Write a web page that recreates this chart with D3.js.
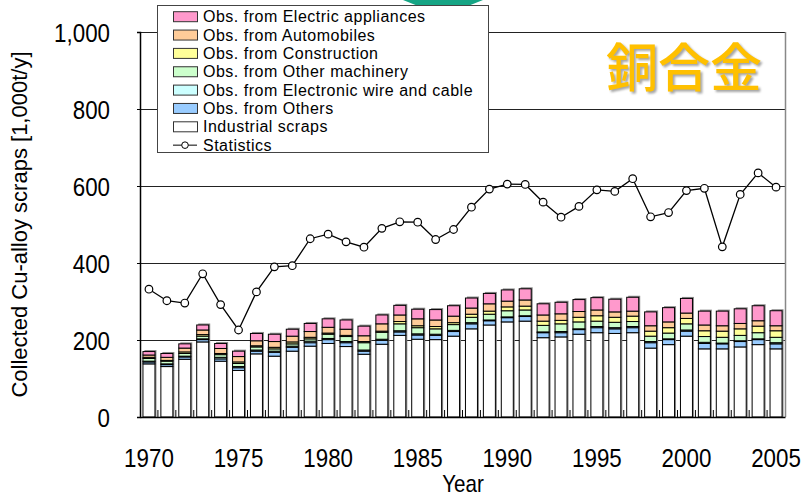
<!DOCTYPE html>
<html lang="ja">
<head>
<meta charset="utf-8">
<title>銅合金 scraps</title>
<script src="https://d3js.org/d3.v7.min.js"></script>
<style>
  body { margin: 0; background: #fff; }
  svg { display: block; }
  .tick-label { font-family: "Liberation Sans", Arial, sans-serif; font-size: 26px; fill: #000; }
  .legend-text { font-family: "Liberation Sans", Arial, sans-serif; font-size: 16px; letter-spacing: 0.5px; fill: #000; }
  .axis-title { font-family: "Liberation Sans", Arial, sans-serif; font-size: 22px; fill: #000; }
</style>
</head>
<body>
<script>
// Data
const years = [1970, 1971, 1972, 1973, 1974, 1975, 1976, 1977, 1978, 1979,
  1980, 1981, 1982, 1983, 1984, 1985, 1986, 1987, 1988, 1989,
  1990, 1991, 1992, 1993, 1994, 1995, 1996, 1997, 1998, 1999,
  2000, 2001, 2002, 2003, 2004, 2005];
const industrial = [138,131,150,195,145,121,164,158,171,184,191,183,163,189,212,202,201,210,229,239,247,249,206,208,215,219,217,219,179,188,210,177,177,182,188,177];
const others = [5,5,6,6,6,7,7,10,10,9,10,10,8,10,9,11,11,12,13,11,11,12,13,11,12,13,12,13,14,13,13,14,13,14,13,13];
const wire = [2,2,2,2,4,3,3,3,3,4,3,3,3,3,3,3,3,3,3,2,2,2,2,3,2,3,3,3,3,2,3,3,2,2,2,3];
const machinery = [7,7,7,7,7,8,8,6,6,6,11,13,19,18,18,16,14,15,14,15,16,15,17,20,18,14,14,13,14,15,16,15,15,14,16,14];
const construction = [3,2,4,4,3,4,3,4,5,4,3,3,3,3,6,5,6,5,8,8,10,10,11,9,12,14,13,14,13,14,14,15,16,17,17,17];
const automobiles = [6,8,10,12,13,14,13,15,15,15,15,16,15,19,17,18,17,17,16,19,15,16,16,17,15,15,14,13,14,15,14,15,14,14,14,13];
const electric = [9,10,11,13,13,14,19,19,18,21,22,24,25,23,25,25,27,27,26,27,29,29,29,30,31,32,33,36,36,37,38,36,38,38,39,39];
const statistics = [332,302,296,372,292,226,325,390,393,463,475,455,441,490,507,506,461,487,545,592,605,604,558,519,547,590,586,619,520,531,588,594,442,578,634,597];

const seriesKeys = ["industrial", "others", "wire", "machinery", "construction", "automobiles", "electric"];
const seriesNames = ["Industrial scraps", "Obs. from Others", "Obs. from Electronic wire and cable",
  "Obs. from Other machinery", "Obs. from Construction", "Obs. from Automobiles", "Obs. from Electric appliances"];
const seriesColors = ["#ffffff", "#99ccff", "#ccffff", "#ccffcc", "#ffff99", "#ffcc99", "#ff99cc"];
const yTicks = [0, 200, 400, 600, 800, 1000];
const xLabels = [1970, 1975, 1980, 1985, 1990, 1995, 2000, 2005];

const table = years.map((year, i) => ({
  year,
  industrial: industrial[i], others: others[i], wire: wire[i], machinery: machinery[i],
  construction: construction[i], automobiles: automobiles[i], electric: electric[i],
  statistics: statistics[i]
}));

// Dimensions
const width = 803;
const height = 499;
const margin = { top: 32, right: 18, bottom: 82, left: 140 };
const narrow = 0.86; // horizontal squeeze for the narrow tick font

const svg = d3.select("body").append("svg")
  .attr("width", width)
  .attr("height", height);

// Scales
const x = d3.scaleBand()
  .domain(years)
  .range([margin.left, width - margin.right])
  .paddingInner(0.33)
  .paddingOuter(0.165);

const y = d3.scaleLinear()
  .domain([0, 1000])
  .range([height - margin.bottom, margin.top]);

// Arrow piece at the top
svg.append("polygon")
  .attr("points", "403,0 483,0 468,6 418,6")
  .attr("fill", "#16a585");

// Gridlines
svg.append("g")
  .selectAll("line")
  .data(yTicks.filter(d => d > 0))
  .join("line")
  .attr("x1", margin.left)
  .attr("x2", width - margin.right)
  .attr("y1", d => Math.round(y(d)) + 0.5)
  .attr("y2", d => Math.round(y(d)) + 0.5)
  .attr("stroke", "#222")
  .attr("stroke-width", 1);

// Right frame
svg.append("line")
  .attr("x1", width - margin.right + 0.5)
  .attr("x2", width - margin.right + 0.5)
  .attr("y1", y(1000))
  .attr("y2", y(0))
  .attr("stroke", "#888")
  .attr("stroke-width", 1.5);

// Stacked bars
const stack = d3.stack().keys(seriesKeys);
const stacked = stack(table);

const tops = table.map(d => seriesKeys.reduce((s, k) => s + d[k], 0));

svg.append("g")
  .selectAll("rect")
  .data(table)
  .join("rect")
  .attr("x", d => x(d.year) + 1.5)
  .attr("y", (d, i) => y(tops[i]) - 1.5)
  .attr("width", x.bandwidth())
  .attr("height", (d, i) => y(0) - y(tops[i]) + 1.5)
  .attr("fill", "#8a8a8a");

svg.append("g")
  .selectAll("g")
  .data(stacked)
  .join("g")
  .attr("fill", (d, i) => seriesColors[i])
  .selectAll("rect")
  .data(d => d)
  .join("rect")
  .attr("x", d => x(d.data.year))
  .attr("y", d => y(d[1]))
  .attr("width", x.bandwidth())
  .attr("height", d => y(d[0]) - y(d[1]))
  .attr("stroke", "#000")
  .attr("stroke-width", 1);

// Axes
const yAxis = svg.append("g")
  .attr("transform", `translate(${margin.left},0)`)
  .call(d3.axisLeft(y).tickValues(yTicks).tickFormat(d3.format(",")).tickSize(3));
yAxis.select(".domain").attr("stroke", "#000").attr("stroke-width", 1.5);
yAxis.selectAll(".tick line").attr("stroke", "#000");
yAxis.selectAll(".tick text")
  .attr("class", "tick-label")
  .attr("x", -30 / narrow)
  .attr("dy", "0.36em")
  .attr("transform", `scale(${narrow},1)`);

// Year boundary ticks
svg.append("g")
  .selectAll("line")
  .data(years.slice(1))
  .join("line")
  .attr("x1", d => x(d) - x.step() * x.paddingInner() / 2)
  .attr("x2", d => x(d) - x.step() * x.paddingInner() / 2)
  .attr("y1", y(0))
  .attr("y2", y(0) - 7)
  .attr("stroke", "#000");

const xAxis = svg.append("g")
  .attr("transform", `translate(0,${y(0)})`)
  .call(d3.axisBottom(x).tickValues(xLabels).tickSize(0).tickPadding(32));
xAxis.select(".domain").attr("stroke", "#000").attr("stroke-width", 1.5);
xAxis.selectAll(".tick text")
  .attr("class", "tick-label")
  .attr("transform", `scale(${narrow},1)`);

// Statistics line
const line = d3.line()
  .x(d => x(d.year) + x.bandwidth() / 2)
  .y(d => y(d.statistics));

svg.append("path")
  .datum(table)
  .attr("d", line)
  .attr("fill", "none")
  .attr("stroke", "#000")
  .attr("stroke-width", 1.3);

svg.append("g")
  .selectAll("circle")
  .data(table)
  .join("circle")
  .attr("cx", d => x(d.year) + x.bandwidth() / 2)
  .attr("cy", d => y(d.statistics))
  .attr("r", 3.8)
  .attr("fill", "#fff")
  .attr("stroke", "#000")
  .attr("stroke-width", 1.2);

// Axis titles
svg.append("text")
  .attr("class", "axis-title")
  .attr("transform", `translate(27,${(y(0) + y(1000)) / 2}) rotate(-90)`)
  .attr("text-anchor", "middle")
  .text("Collected Cu-alloy scraps [1,000t/y]");

svg.append("text")
  .attr("class", "tick-label")
  .attr("transform", `translate(463,492) scale(${narrow},1)`)
  .attr("text-anchor", "middle")
  .style("font-size", "24px")
  .text("Year");

// Title
svg.append("text")
  .attr("x", 606)
  .attr("y", 87)
  .attr("font-family", "'Noto Sans CJK JP', sans-serif")
  .attr("font-size", 52)
  .attr("font-weight", 500)
  .attr("fill", "#ffc000")
  .style("filter", "drop-shadow(2px 2px 1px rgba(0,0,0,0.35))")
  .text("銅合金");

// Legend
const legend = svg.append("g");
legend.append("rect")
  .attr("x", 157.5)
  .attr("y", 5.5)
  .attr("width", 331)
  .attr("height", 147)
  .attr("fill", "#fff")
  .attr("stroke", "#444");

const legendItems = seriesKeys.map((k, i) => ({ name: seriesNames[i], color: seriesColors[i] })).reverse();
const rowY = i => 16.7 + i * 18.35;

const items = legend.selectAll("g.item")
  .data(legendItems)
  .join("g")
  .attr("class", "item")
  .attr("transform", (d, i) => `translate(0,${rowY(i)})`);

items.append("rect")
  .attr("x", 173.5)
  .attr("y", -5)
  .attr("width", 24)
  .attr("height", 10)
  .attr("fill", d => d.color)
  .attr("stroke", "#333");

items.append("text")
  .attr("class", "legend-text")
  .attr("x", 203)
  .attr("y", 5.5)
  .text(d => d.name);

const statRow = legend.append("g")
  .attr("transform", `translate(0,${rowY(legendItems.length)})`);
statRow.append("line")
  .attr("x1", 173).attr("x2", 197)
  .attr("y1", 0).attr("y2", 0)
  .attr("stroke", "#000");
statRow.append("circle")
  .attr("cx", 185).attr("cy", 0).attr("r", 3.3)
  .attr("fill", "#fff").attr("stroke", "#000");
statRow.append("text")
  .attr("class", "legend-text")
  .attr("x", 203)
  .attr("y", 5.5)
  .text("Statistics");
</script>
</body>
</html>
